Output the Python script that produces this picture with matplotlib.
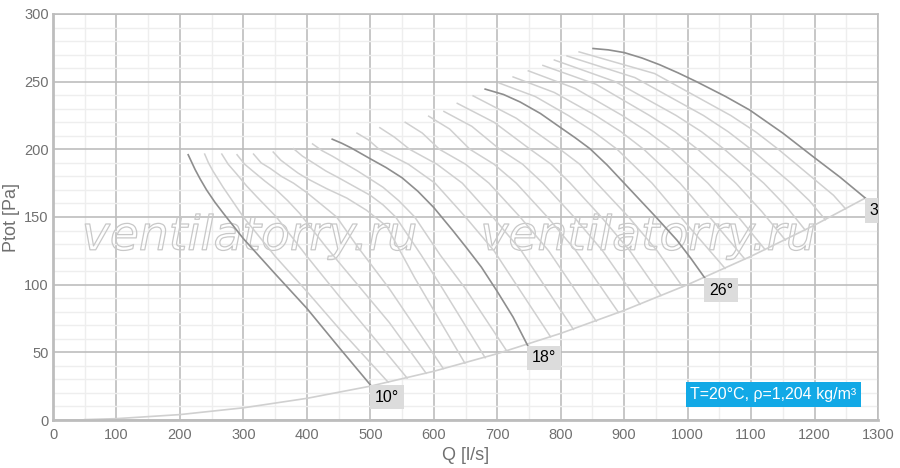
import matplotlib
matplotlib.use("Agg")
import matplotlib.pyplot as plt
from matplotlib.ticker import MultipleLocator
import matplotlib.patheffects as pe

plt.rcParams['font.family'] = ['Liberation Sans', 'DejaVu Sans']

# fan curves, Q [l/s] and Ptot [Pa], one pair per blade angle
q_10 = [213, 218, 224, 232, 242, 255, 268, 284, 300, 350, 400, 450, 500]
p_10 = [196, 191, 185, 178, 170, 161, 153, 143.5, 134, 108, 82.5, 54, 26]
q_11 = [239, 245, 252, 268, 284, 300, 350, 400, 450, 528]
p_11 = [196.5, 190, 184, 172, 161, 150, 121, 95, 68, 28]
q_12 = [266, 276, 289, 305, 321, 352, 400, 450, 500, 558]
p_12 = [196.5, 189, 182, 173, 165, 150, 121, 92, 64, 31]
q_13 = [290, 302, 316, 334, 352, 370, 389, 430, 480, 530, 588]
p_13 = [196, 189, 183.5, 176.5, 170, 162, 152.5, 128, 100, 72, 34.5]
q_14 = [316, 328, 342, 360, 379, 400, 421, 447, 480, 530, 615]
p_14 = [196.5, 190, 186, 180, 175, 168, 160, 150, 128, 97, 38]
q_15 = [347, 359, 373, 386, 400, 431, 463, 494, 526, 570, 649]
p_15 = [198, 192, 187, 182.5, 178.5, 171, 164, 155, 143, 105, 42]
q_16 = [379, 393, 410, 430, 450, 475, 500, 520, 540, 580, 610, 681]
p_16 = [200.5, 195, 190, 184, 179, 172.5, 166, 159, 150, 122, 100, 46]
q_17 = [409, 424, 440, 460, 480, 500, 520, 545, 570, 610, 650, 715]
p_17 = [204, 199, 195, 189.5, 184, 178, 172, 162, 150, 122, 97, 51]
q_18 = [440, 455, 470, 485, 500, 525, 550, 575, 600, 630, 652, 675, 700, 725, 748]
p_18 = [207.5, 204.5, 201, 197, 193, 186.5, 179, 169, 157, 140, 127, 113, 95, 76, 55]
q_19 = [479, 497, 514, 560, 602, 650, 695, 784]
p_19 = [212, 207, 200, 189, 175, 150, 125, 61.5]
q_20 = [515, 538, 562, 605, 645, 693, 738, 820]
p_20 = [216, 209, 200, 189, 175, 150, 125, 67]
q_21 = [555, 582, 609, 650, 687, 736, 781, 856]
p_21 = [220, 212, 200, 189, 175, 150, 125, 73]
q_22 = [592, 625, 657, 695, 730, 779, 824, 891]
p_22 = [224.5, 215, 200, 189, 175, 150, 125, 79.5]
q_23 = [616, 660, 704, 740, 772, 821, 866, 925]
p_23 = [228, 217, 200, 189, 175, 150, 125, 85.5]
q_24 = [637, 695, 752, 785, 815, 864, 909, 958]
p_24 = [234, 220, 200, 189, 175, 150, 125, 92]
q_25 = [662, 730, 799, 830, 857, 907, 952, 992]
p_25 = [239.5, 223, 200, 189, 175, 150, 125, 98.5]
q_26 = [681, 710, 736, 768, 800, 823, 846, 873, 900, 925, 950, 983, 1005, 1027]
p_26 = [244.5, 240.5, 235, 226.5, 216, 208.5, 200.5, 188.5, 175, 162.5, 150, 133, 119.5, 105]
q_27 = [703, 760, 812, 852, 889, 944, 1000, 1059]
p_27 = [249, 239, 225, 213, 200, 175, 144, 112]
q_28 = [725, 790, 855, 895, 931, 988, 1040, 1090]
p_28 = [253.5, 242, 225, 213, 200, 175, 147, 119]
q_29 = [749, 823, 897, 937, 974, 1032, 1080, 1122]
p_29 = [258, 245, 225, 213, 200, 175, 150, 126]
q_30 = [772, 856, 940, 980, 1016, 1076, 1117, 1154]
p_30 = [262, 248, 225, 213, 200, 175, 154, 133]
q_31 = [790, 886, 982, 1022, 1058, 1120, 1155, 1185]
p_31 = [266, 250, 225, 213, 200, 175, 158, 140.5]
q_32 = [810, 917, 1025, 1064, 1100, 1163, 1192, 1217]
p_32 = [269, 253, 225, 213, 200, 175, 162, 148]
q_33 = [829, 948, 1068, 1107, 1143, 1207, 1230, 1249]
p_33 = [272, 256, 225, 213, 200, 175, 166, 156]
q_34 = [851, 875, 900, 928, 956, 985, 1014, 1060, 1098, 1150, 1198, 1240, 1280]
p_34 = [274.5, 273.5, 271.5, 267.5, 262.5, 256.5, 250, 239, 229, 212, 194.5, 179.5, 164]

# system curve through the end points
q_sys = [50, 100, 200, 300, 400, 500, 600, 700, 800, 900, 1000, 1100, 1200, 1280]
p_sys = [0.3, 1, 4, 9, 16, 25, 36, 49, 64, 81, 100, 121, 144, 164]

curves = [
    (10, q_10, p_10), (11, q_11, p_11), (12, q_12, p_12), (13, q_13, p_13),
    (14, q_14, p_14), (15, q_15, p_15), (16, q_16, p_16), (17, q_17, p_17),
    (18, q_18, p_18), (19, q_19, p_19), (20, q_20, p_20), (21, q_21, p_21),
    (22, q_22, p_22), (23, q_23, p_23), (24, q_24, p_24), (25, q_25, p_25),
    (26, q_26, p_26), (27, q_27, p_27), (28, q_28, p_28), (29, q_29, p_29),
    (30, q_30, p_30), (31, q_31, p_31), (32, q_32, p_32), (33, q_33, p_33),
    (34, q_34, p_34),
]
labelled = [10, 18, 26, 34]

fig = plt.figure(figsize=(9, 4.68), dpi=100)
ax = fig.add_axes([53 / 900, 48 / 468, 825 / 900, 406 / 468])

ax.set_xlim(0, 1300)
ax.set_ylim(0, 300)
ax.xaxis.set_major_locator(MultipleLocator(100))
ax.xaxis.set_minor_locator(MultipleLocator(50))
ax.yaxis.set_major_locator(MultipleLocator(50))
ax.yaxis.set_minor_locator(MultipleLocator(10))
ax.grid(which='minor', color='#eeeeee', linewidth=1.0)
ax.grid(which='major', color='#bdbdbd', linewidth=1.2)
ax.set_axisbelow(True)
for s in ax.spines.values():
    s.set_color('#bdbdbd')
    s.set_linewidth(1.2)
ax.spines['left'].set_linewidth(2)
ax.spines['bottom'].set_linewidth(2)
ax.tick_params(which='both', length=0, colors='#707070', labelsize=10.5)
ax.tick_params(axis='x', pad=6)
ax.tick_params(axis='y', pad=3)
ax.set_xlabel('Q [l/s]', color='#707070', fontsize=13, labelpad=3)
ax.set_ylabel('Ptot [Pa]', color='#707070', fontsize=13, labelpad=3)

# watermark
for xc in [310, 938]:
    ax.text(xc, 135, 'ventilatorry.ru', fontsize=34, style='italic',
            family='DejaVu Sans', color=(1, 1, 1, 0), ha='center',
            va='center', zorder=1,
            path_effects=[pe.Stroke(linewidth=0.9, foreground='#c8c8c8')])

ax.plot(q_sys, p_sys, color='#d0d0d0', linewidth=1.2, zorder=2)

for angle, q, p in curves:
    if angle in labelled:
        ax.plot(q, p, color='#8e8e8e', linewidth=1.2, zorder=4)
    else:
        ax.plot(q, p, color='#d0d0d0', linewidth=1.1, zorder=3)

for angle, q, p in curves:
    if angle in labelled:
        ax.text(q[-1] + 7, p[-1] - 3.5, f'{angle}°', fontsize=11.5, color='black',
                ha='left', va='top', zorder=5, clip_on=True,
                bbox=dict(boxstyle='square,pad=0.3', facecolor='#dcdcdc', edgecolor='none'))

ax.text(0.974, 0.045, 'T=20°C, ρ=1,204 kg/m³', transform=ax.transAxes,
        fontsize=11.5, color='white', ha='right', va='bottom', zorder=6,
        bbox=dict(boxstyle='square,pad=0.3', facecolor='#12a9e6', edgecolor='none'))

fig.savefig('out.png')
